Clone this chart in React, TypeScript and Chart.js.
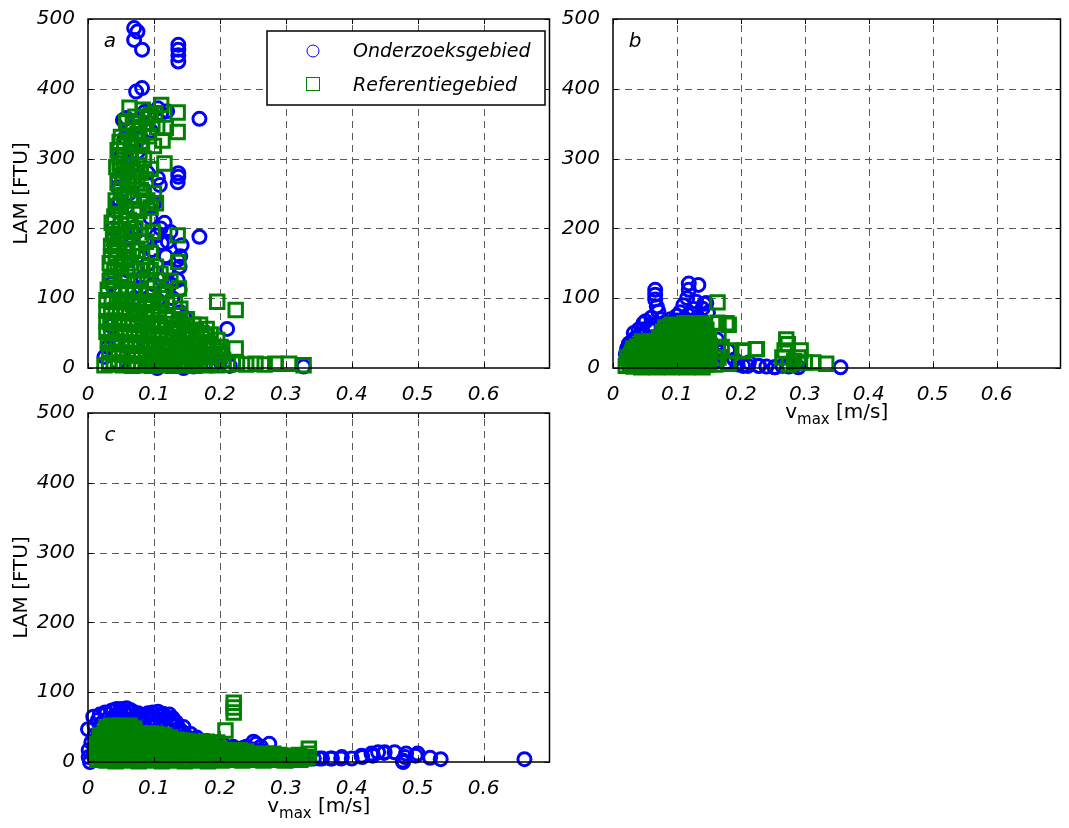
import React, { useEffect, useRef } from 'react';
import { Chart, registerables } from 'chart.js';

Chart.register(...registerables);

type Pt = [number, number];

// Axis ranges and tick positions
const X_MAX = 0.7;
const Y_MAX = 500;
const xTicks = [0, 0.1, 0.2, 0.3, 0.4, 0.5, 0.6];
const yTicks = [0, 100, 200, 300, 400, 500];

const seriesNames = ['Onderzoeksgebied', 'Referentiegebied'];
const yAxisTitle = 'LAM [FTU]';
const xAxisTitle = { main: 'v', sub: 'max', rest: ' [m/s]' };

// Panel a: [v_max (m/s), LAM (FTU)]
const studyA: Pt[] = [
  [0.070,487],[0.075,482],[0.070,470],[0.082,456],
  [0.137,463],[0.137,456],[0.137,448],[0.137,439],
  [0.073,396],[0.082,401],[0.169,357],[0.137,279],[0.137,274],[0.169,188],[0.211,56],[0.327,2],[0.025,16],
  [0.106,372],[0.053,355],[0.086,367],[0.111,365],[0.120,368],[0.058,358],[0.095,340],[0.080,330],[0.066,320],
  [0.051,305],[0.075,309],[0.056,330],[0.060,295],[0.066,287],[0.045,272],[0.106,272],[0.109,262],[0.136,266],
  [0.090,280],[0.045,259],[0.048,240],[0.062,250],[0.085,255],[0.100,235],[0.104,190],[0.121,181],[0.112,179],
  [0.086,181],[0.142,176],[0.071,193],[0.071,202],[0.116,208],[0.097,169],[0.136,155],[0.139,145],[0.090,148],
  [0.083,130],[0.136,126],[0.112,126],[0.139,112],[0.113,107],[0.106,97],[0.146,73],[0.140,160],[0.125,195],
  [0.110,200],[0.095,215],[0.058,230],[0.042,225],[0.065,185],[0.075,160],[0.060,140],[0.080,115],[0.100,120],
  [0.120,140],[0.128,100],[0.140,80],[0.095,90],[0.070,100],[0.055,80],[0.080,70],[0.110,65],[0.130,55],
  [0.150,45],[0.040,40],[0.060,30],[0.090,30],[0.120,25],[0.150,20],[0.180,15],[0.200,10],[0.035,60],
  [0.030,30],[0.045,8],[0.070,5],[0.100,5],[0.130,3],[0.160,2],[0.190,4],[0.215,3],[0.145,0],[0.105,0],
  [0.038,200],[0.040,175],[0.052,190],[0.035,120],[0.092,230],[0.118,160],[0.125,120],[0.150,30],[0.170,25],
];

const refA: Pt[] = [
  [0.063,373],[0.083,370],[0.111,377],[0.136,366],[0.072,360],[0.095,362],[0.058,352],[0.088,350],[0.105,345],
  [0.118,344],[0.136,338],[0.050,331],[0.048,324],[0.075,335],[0.092,332],[0.113,326],[0.082,320],[0.100,318],
  [0.065,310],[0.048,303],[0.048,293],[0.050,283],[0.085,300],[0.116,293],[0.075,290],[0.095,285],[0.070,275],
  [0.088,270],[0.060,262],[0.080,255],[0.100,250],[0.055,248],[0.068,240],[0.090,240],[0.103,236],[0.045,232],
  [0.058,225],[0.078,225],[0.040,217],[0.062,212],[0.085,210],[0.050,205],[0.072,200],[0.098,195],[0.136,190],
  [0.040,185],[0.088,181],[0.060,178],[0.045,170],[0.075,168],[0.035,160],[0.055,155],[0.137,152],[0.103,145],
  [0.045,145],[0.070,140],[0.035,130],[0.060,125],[0.090,125],[0.138,114],[0.196,95],[0.224,83],[0.138,76],
  [0.201,30],[0.224,28],
  [0.033,125],[0.040,140],[0.033,150],[0.042,158],[0.035,175],[0.045,180],[0.038,192],[0.047,198],[0.036,208],
  [0.050,218],[0.042,240],[0.050,255],[0.045,265],[0.052,275],[0.043,288],[0.055,298],[0.045,312],[0.055,318],
  [0.060,340],[0.068,350],[0.078,345],[0.090,358],[0.102,365],[0.065,325],[0.072,318],[0.078,305],[0.063,300],
  [0.068,285],[0.080,280],[0.062,270],[0.075,265],[0.085,245],[0.095,230],[0.070,228],[0.065,195],[0.080,190],
  [0.058,190],[0.068,170],[0.082,160],[0.095,165],[0.058,165],[0.050,150],[0.065,150],[0.080,140],[0.095,140],
  [0.110,135],[0.050,135],[0.075,125],[0.100,115],[0.115,110],[0.125,125],[0.132,95],[0.140,85],[0.150,70],
  [0.160,62],[0.145,60],[0.170,62],[0.178,45],[0.158,42],[0.196,40],[0.198,25],[0.205,12],[0.212,5],
  [0.030,112],[0.040,115],[0.050,110],[0.058,113],[0.068,108],[0.080,110],[0.092,105],[0.110,100],
  [0.028,97],[0.036,95],[0.044,98],[0.052,94],[0.060,97],[0.068,92],[0.077,95],[0.086,90],[0.096,93],[0.108,88],[0.120,92],
  [0.028,82],[0.035,80],[0.042,83],[0.049,79],[0.056,82],[0.063,78],[0.071,81],[0.079,77],[0.088,80],[0.097,76],
  [0.107,78],[0.118,74],[0.128,70],
  [0.028,67],[0.034,65],[0.040,68],[0.047,64],[0.054,67],[0.061,63],[0.068,66],[0.075,62],[0.083,65],[0.091,61],
  [0.099,64],[0.108,60],[0.117,63],[0.126,58],[0.136,62],
  [0.028,52],[0.035,50],[0.042,53],[0.049,49],[0.056,52],[0.063,48],[0.070,51],[0.077,47],[0.085,50],[0.093,46],
  [0.101,49],[0.110,45],[0.119,48],[0.128,44],[0.137,50],[0.146,47],[0.155,52],[0.164,55],[0.172,50],[0.180,56],[0.186,48],
  [0.030,37],[0.037,35],[0.044,38],[0.051,34],[0.058,37],[0.065,33],[0.072,36],[0.079,32],[0.087,35],[0.095,31],
  [0.103,34],[0.111,30],[0.119,33],[0.127,29],[0.135,34],[0.143,31],[0.151,36],[0.159,33],[0.167,37],[0.175,32],
  [0.183,35],[0.190,30],
  [0.032,22],[0.039,20],[0.046,23],[0.053,19],[0.060,22],[0.067,18],[0.074,21],[0.081,17],[0.089,20],[0.097,16],
  [0.105,19],[0.113,15],[0.121,18],[0.129,14],[0.137,19],[0.145,16],[0.153,20],[0.161,17],[0.169,21],[0.177,18],
  [0.185,20],[0.193,16],[0.200,18],
  [0.025,4],[0.032,7],[0.039,5],[0.046,8],[0.053,4],[0.060,7],[0.067,3],[0.074,6],[0.081,4],[0.089,7],[0.097,3],
  [0.105,6],[0.113,4],[0.121,7],[0.129,3],[0.137,6],[0.145,4],[0.153,7],[0.161,3],[0.169,6],[0.177,4],[0.185,7],
  [0.196,4],[0.226,6],[0.240,5],[0.254,6],[0.268,5],[0.284,6],[0.305,6],[0.327,4],
];

// Panel b
const studyB: Pt[] = [
  [0.1185,121],[0.1335,119],[0.1185,112],[0.116,100],[0.066,112],[0.066,105],[0.066,98],[0.0685,88],[0.071,81],
  [0.146,93],[0.1485,79],[0.051,67],[0.056,58],[0.036,43],[0.0335,39],[0.356,1],[0.2535,1],[0.2285,3],[0.211,3],
  [0.2035,3],[0.1325,73],[0.1175,76],[0.140,85],[0.1425,92],[0.0475,64],[0.035,43],[0.0325,50],[0.1625,41],
  [0.1625,25],[0.180,25],[0.1775,8],[0.2125,8],[0.2275,3],[0.2525,1],
  [0.125,65],[0.135,60],[0.145,55],[0.150,45],[0.155,35],[0.170,18],[0.190,12],[0.195,5],[0.240,2],[0.265,3],
  [0.275,2],[0.285,4],[0.290,1],[0.060,72],[0.075,70],[0.090,65],[0.100,68],[0.110,70],[0.080,55],[0.045,55],
  [0.025,35],[0.022,28],[0.020,20],[0.040,30],[0.100,50],[0.130,45],[0.140,30],[0.150,15],[0.165,10],
  [0.040,55],[0.045,48],[0.060,62],[0.028,33],[0.025,25],[0.080,62],[0.090,70],[0.100,75],[0.105,80],[0.125,85],
  [0.130,95],[0.110,90],
];

const refB: Pt[] = [
  [0.1635,94],[0.1635,65],[0.181,62],[0.2235,27],[0.2035,25],[0.271,41],[0.2735,34],[0.2935,25],[0.3135,8],
  [0.3335,6],[0.181,6],[0.2685,25],[0.2835,10],[0.165,64],[0.1775,64],[0.1375,64],[0.0925,62],[0.1125,64],
  [0.225,27],[0.2025,24],[0.180,6],[0.265,15],[0.290,15],[0.300,8],[0.275,5],[0.165,45],[0.170,30],[0.185,25],
  [0.165,15],[0.160,5],
  [0.082,58],[0.090,60],[0.098,57],[0.106,60],[0.114,58],[0.122,61],[0.130,57],[0.138,60],[0.146,55],
  [0.078,52],[0.086,51],[0.094,53],[0.102,50],[0.110,52],[0.118,50],[0.126,52],[0.134,49],[0.142,50],
  [0.072,44],[0.079,47],[0.086,43],[0.093,46],[0.100,42],[0.107,45],[0.114,41],[0.121,44],[0.128,40],[0.135,43],
  [0.142,39],[0.150,42],
  [0.045,38],[0.052,36],[0.060,38],[0.068,37],[0.076,39],[0.084,37],[0.092,39],[0.100,36],[0.108,38],[0.116,35],
  [0.124,37],[0.132,34],[0.140,36],[0.148,33],
  [0.032,28],[0.038,31],[0.044,34],[0.050,30],[0.056,33],[0.062,29],[0.068,32],[0.074,28],[0.080,31],[0.086,27],
  [0.092,30],[0.098,26],[0.104,29],[0.110,25],[0.116,28],[0.122,24],[0.128,27],[0.134,23],[0.140,26],[0.146,22],
  [0.152,25],
  [0.030,22],[0.036,24],[0.042,22],[0.048,24],[0.054,21],[0.060,23],[0.066,21],[0.072,23],[0.078,20],[0.084,22],
  [0.090,20],[0.096,22],[0.102,19],[0.108,21],[0.114,19],[0.120,20],[0.126,18],[0.132,20],[0.138,17],[0.144,19],
  [0.150,17],
  [0.022,15],[0.028,18],[0.034,14],[0.040,17],[0.046,13],[0.052,16],[0.058,12],[0.064,15],[0.070,11],[0.076,14],
  [0.082,10],[0.088,13],[0.094,9],[0.100,12],[0.106,8],[0.112,11],[0.118,7],[0.124,10],[0.130,6],[0.136,9],
  [0.142,5],[0.148,8],
  [0.025,10],[0.031,11],[0.037,9],[0.043,11],[0.049,9],[0.055,10],[0.061,8],[0.067,10],[0.073,8],[0.079,9],
  [0.085,7],[0.091,9],[0.097,7],[0.103,9],[0.109,6],[0.115,8],[0.121,6],[0.127,8],[0.133,5],[0.139,7],[0.145,5],
  [0.151,6],
  [0.020,3],[0.026,6],[0.032,2],[0.038,5],[0.044,1],[0.050,4],[0.056,2],[0.062,5],[0.068,1],[0.074,4],[0.080,2],
  [0.086,5],[0.092,1],[0.098,4],[0.104,2],[0.110,5],[0.116,1],[0.122,4],[0.128,2],[0.134,5],[0.140,1],
];

// Panel c
const studyC: Pt[] = [
  [0.662,4],[0.535,4],[0.519,6],[0.497,9],[0.481,7],[0.478,0],[0.449,13],[0.432,9],[0.416,7],[0.400,5],
  [0.384,5],[0.368,5],[0.351,5],[0.335,7],[0.500,12],[0.4825,12],[0.4775,2],[0.465,14],[0.450,14],[0.440,14],
  [0.430,12],[0.415,9],[0.385,7],[0.370,5],[0.355,5],[0.3425,5],[0.255,26],[0.275,26],[0.000,47],[0.156,40],
  [0.251,29],
  [0.026,71],[0.0435,76],[0.0585,77],[0.076,70],[0.091,70],[0.106,72],[0.1235,68],[0.1335,57],[0.021,50],
  [0.015,60],[0.035,73],[0.050,76],[0.065,74],[0.083,67],[0.098,71],[0.114,69],[0.128,63],[0.010,52],[0.030,62],
  [0.045,67],[0.060,68],[0.070,64],[0.085,60],[0.100,62],[0.115,60],[0.125,55],[0.138,48],[0.145,42],
  [0.008,65],[0.018,68],[0.028,70],[0.038,74],[0.048,74],[0.055,72],[0.068,72],[0.078,66],[0.088,66],[0.095,68],
  [0.108,66],[0.118,64],[0.130,60],[0.135,52],[0.140,44],[0.150,36],[0.158,32],[0.170,28],[0.185,26],[0.200,22],
  [0.215,20],[0.240,22],[0.262,22],[0.145,50],[0.010,38],[0.012,25],[0.008,10],[0.020,55],[0.040,62],[0.080,62],
  [0.110,55],
  [0.001,17],[0.001,7],[0.005,28],[0.003,0],[0.140,30],[0.160,25],[0.165,35],[0.180,30],[0.195,28],[0.205,25],
  [0.220,22],[0.235,20],[0.250,18],[0.265,15],[0.280,12],[0.295,10],[0.310,8],[0.320,6],[0.190,15],[0.210,10],
  [0.230,8],[0.260,5],[0.290,3],[0.310,2],[0.325,3],[0.020,40],[0.060,55],[0.100,50],[0.120,45],
];

const refC: Pt[] = [
  [0.221,85],[0.221,78],[0.221,71],[0.2085,45],[0.335,19],[0.335,12],[0.333,7],[0.290,10],[0.300,8],[0.310,9],
  [0.318,7],
  [0.028,50],[0.035,52],[0.042,49],[0.049,52],[0.056,50],[0.063,52],[0.070,48],
  [0.030,46],[0.038,45],[0.046,46],[0.054,45],[0.062,46],[0.070,44],[0.078,41],[0.086,40],[0.094,41],[0.102,40],
  [0.110,39],
  [0.018,38],[0.025,41],[0.032,39],[0.039,42],[0.046,39],[0.053,42],[0.060,39],[0.067,42],[0.074,40],[0.081,38],
  [0.088,40],[0.095,38],[0.102,40],[0.109,37],[0.116,38],[0.124,35],
  [0.022,34],[0.030,35],[0.038,34],[0.046,35],[0.054,34],[0.062,35],[0.070,34],[0.078,35],[0.086,34],[0.094,35],
  [0.102,34],[0.110,35],[0.118,34],[0.126,33],[0.134,32],[0.142,31],[0.150,30],
  [0.014,26],[0.021,29],[0.028,26],[0.035,29],[0.042,26],[0.049,29],[0.056,26],[0.063,29],[0.070,26],[0.077,29],
  [0.084,26],[0.091,29],[0.098,26],[0.105,29],[0.112,26],[0.119,30],[0.126,27],[0.133,30],[0.140,27],[0.148,29],
  [0.156,27],[0.164,29],[0.172,27],[0.180,29],[0.188,26],[0.196,28],
  [0.016,21],[0.024,22],[0.032,21],[0.040,22],[0.048,21],[0.056,22],[0.064,21],[0.072,22],[0.080,21],[0.088,22],
  [0.096,21],[0.104,22],[0.112,21],[0.120,22],[0.128,21],[0.136,22],[0.144,21],[0.152,22],[0.160,21],[0.168,22],
  [0.176,21],[0.184,22],[0.192,20],[0.200,19],[0.210,17],[0.220,16],[0.230,17],[0.240,15],
  [0.012,13],[0.019,16],[0.026,13],[0.033,16],[0.040,13],[0.047,16],[0.054,13],[0.061,16],[0.068,13],[0.075,16],
  [0.082,13],[0.089,16],[0.096,13],[0.103,16],[0.110,13],[0.117,16],[0.124,13],[0.131,16],[0.138,13],[0.145,16],
  [0.152,13],[0.159,16],[0.166,13],[0.173,16],[0.180,13],[0.187,16],[0.194,13],[0.201,14],[0.209,11],[0.217,13],
  [0.225,10],[0.233,12],[0.241,10],[0.249,12],[0.257,10],[0.265,12],[0.273,10],[0.281,12],
  [0.016,8],[0.024,9],[0.032,8],[0.040,9],[0.048,8],[0.056,9],[0.064,8],[0.072,9],[0.080,8],[0.088,9],[0.096,8],
  [0.104,9],[0.112,8],[0.120,9],[0.128,8],[0.136,9],[0.144,8],[0.152,9],[0.160,8],[0.168,9],[0.176,8],[0.184,9],
  [0.192,8],[0.200,8],[0.208,7],[0.216,8],[0.224,7],[0.232,8],[0.240,7],[0.248,8],[0.256,7],[0.264,8],[0.272,7],
  [0.280,8],[0.288,7],[0.296,8],[0.304,7],[0.312,8],[0.320,10],
  [0.014,3],[0.021,5],[0.028,2],[0.035,4],[0.042,1],[0.049,3],[0.056,5],[0.063,2],[0.070,4],[0.077,1],[0.084,3],
  [0.091,5],[0.098,2],[0.105,4],[0.112,1],[0.119,3],[0.126,5],[0.133,2],[0.140,4],[0.147,1],[0.154,3],[0.161,5],
  [0.168,2],[0.175,4],[0.182,1],[0.189,3],[0.196,5],[0.203,2],[0.210,4],[0.218,3],[0.226,5],[0.234,2],[0.242,4],
  [0.250,3],[0.258,5],[0.266,2],[0.274,4],[0.282,3],[0.290,5],[0.298,2],[0.306,4],[0.314,3],[0.322,3],[0.328,5],
];

const FONT = "'DejaVu Sans', 'Liberation Sans', sans-serif";
const BLUE = '#0000ff';
const GREEN = '#008000';

// margins around the plot area inside each canvas
const PAD_L = 85;
const PAD_T = 15;
const PAD_R = 10;
const PAD_B = 70;

interface PanelCfg {
  left: number;
  top: number;
  width: number;
  height: number;
  letter: string;
  study: Pt[];
  reference: Pt[];
  legend: boolean;
  yTitle: boolean;
  xTitle: boolean;
}

const panels: PanelCfg[] = [
  { left: 88, top: 19, width: 464, height: 349, letter: 'a', study: studyA, reference: refA, legend: true, yTitle: true, xTitle: false },
  { left: 613, top: 19, width: 450, height: 349, letter: 'b', study: studyB, reference: refB, legend: false, yTitle: false, xTitle: true },
  { left: 88, top: 413, width: 464, height: 349, letter: 'c', study: studyC, reference: refC, legend: false, yTitle: true, xTitle: true },
];

const panelDecor = {
  id: 'panelDecor',
  beforeDatasetsDraw(chart: any) {
    const { ctx, chartArea: ca, scales } = chart;
    ctx.save();
    ctx.strokeStyle = '#5a5a5a';
    ctx.lineWidth = 1;
    ctx.setLineDash([7, 5]);
    for (const v of xTicks) {
      if (v <= 0) continue;
      const px = Math.round(scales.x.getPixelForValue(v)) + 0.5;
      ctx.beginPath();
      ctx.moveTo(px, ca.bottom);
      ctx.lineTo(px, ca.top);
      ctx.stroke();
    }
    for (const v of yTicks) {
      if (v <= 0 || v >= Y_MAX) continue;
      const py = Math.round(scales.y.getPixelForValue(v)) + 0.5;
      ctx.beginPath();
      ctx.moveTo(ca.left, py);
      ctx.lineTo(ca.right, py);
      ctx.stroke();
    }
    ctx.restore();
  },
  afterDatasetsDraw(chart: any, _args: any, opts: any) {
    const { ctx, chartArea: ca, scales } = chart;
    ctx.save();
    // axes box
    ctx.strokeStyle = '#000';
    ctx.lineWidth = 1.5;
    ctx.strokeRect(ca.left, ca.top, ca.right - ca.left, ca.bottom - ca.top);
    // inward tick marks on all four sides
    ctx.lineWidth = 1;
    const TL = 5;
    for (const v of xTicks) {
      const px = Math.round(scales.x.getPixelForValue(v)) + 0.5;
      ctx.beginPath();
      ctx.moveTo(px, ca.bottom); ctx.lineTo(px, ca.bottom - TL);
      ctx.moveTo(px, ca.top); ctx.lineTo(px, ca.top + TL);
      ctx.stroke();
    }
    for (const v of yTicks) {
      const py = Math.round(scales.y.getPixelForValue(v)) + 0.5;
      ctx.beginPath();
      ctx.moveTo(ca.left, py); ctx.lineTo(ca.left + TL, py);
      ctx.moveTo(ca.right, py); ctx.lineTo(ca.right - TL, py);
      ctx.stroke();
    }
    // panel letter
    ctx.fillStyle = '#000';
    ctx.font = `italic 20px ${FONT}`;
    ctx.textAlign = 'center';
    ctx.textBaseline = 'middle';
    ctx.fillText(opts.letter, ca.left + 22, ca.top + 23);

    if (opts.legend) {
      const bx = ca.left + 179;
      const by = ca.top + 12;
      const bw = 278;
      const bh = 74;
      ctx.fillStyle = '#fff';
      ctx.fillRect(bx, by, bw, bh);
      ctx.strokeStyle = '#000';
      ctx.lineWidth = 1.5;
      ctx.strokeRect(bx, by, bw, bh);
      const mx = bx + 46;
      ctx.lineWidth = 1;
      ctx.strokeStyle = BLUE;
      ctx.beginPath();
      ctx.arc(mx, by + 20, 6, 0, Math.PI * 2);
      ctx.stroke();
      ctx.strokeStyle = GREEN;
      ctx.strokeRect(mx - 6.5, by + 53 - 6.5, 13, 13);
      ctx.fillStyle = '#000';
      ctx.font = `italic 19px ${FONT}`;
      ctx.textAlign = 'left';
      ctx.textBaseline = 'middle';
      ctx.fillText(seriesNames[0], bx + 86, by + 21);
      ctx.fillText(seriesNames[1], bx + 86, by + 55);
    }

    if (opts.yTitle) {
      ctx.save();
      ctx.translate(ca.left - 66, (ca.top + ca.bottom) / 2);
      ctx.rotate(-Math.PI / 2);
      ctx.fillStyle = '#000';
      ctx.font = `20px ${FONT}`;
      ctx.textAlign = 'center';
      ctx.textBaseline = 'middle';
      ctx.fillText(yAxisTitle, 0, 0);
      ctx.restore();
    }

    if (opts.xTitle) {
      const big = `20px ${FONT}`;
      const small = `15px ${FONT}`;
      ctx.font = big;
      const w1 = ctx.measureText(xAxisTitle.main).width;
      const w3 = ctx.measureText(xAxisTitle.rest).width;
      ctx.font = small;
      const w2 = ctx.measureText(xAxisTitle.sub).width;
      const total = w1 + w2 + w3;
      let x = (ca.left + ca.right) / 2 - total / 2;
      const base = ca.bottom + 50;
      ctx.fillStyle = '#000';
      ctx.textAlign = 'left';
      ctx.textBaseline = 'alphabetic';
      ctx.font = big;
      ctx.fillText(xAxisTitle.main, x, base);
      x += w1;
      ctx.font = small;
      ctx.fillText(xAxisTitle.sub, x, base + 6);
      x += w2;
      ctx.font = big;
      ctx.fillText(xAxisTitle.rest, x, base);
    }
    ctx.restore();
  },
};

function Panel({ cfg }: { cfg: PanelCfg }) {
  const canvasRef = useRef<HTMLCanvasElement | null>(null);

  useEffect(() => {
    const canvas = canvasRef.current;
    if (!canvas) return;
    const tickFont = { family: FONT, size: 20, style: 'italic' as const };
    const chart = new Chart(canvas, {
      type: 'scatter',
      data: {
        datasets: [
          {
            label: seriesNames[0],
            data: cfg.study.map(([x, y]) => ({ x, y })),
            pointStyle: 'circle',
            pointRadius: 6.5,
            borderColor: BLUE,
            backgroundColor: 'rgba(0,0,0,0)',
            borderWidth: 3,
            order: 2,
            clip: false as any,
          },
          {
            label: seriesNames[1],
            data: cfg.reference.map(([x, y]) => ({ x, y })),
            pointStyle: 'rect',
            pointRadius: 9.5,
            borderColor: GREEN,
            backgroundColor: 'rgba(0,0,0,0)',
            borderWidth: 3,
            order: 1,
            clip: false as any,
          },
        ],
      },
      options: {
        responsive: false,
        animation: false,
        events: [],
        layout: { padding: { left: 0, top: PAD_T, right: PAD_R, bottom: 0 } },
        plugins: {
          legend: { display: false },
          tooltip: { enabled: false },
          panelDecor: { letter: cfg.letter, legend: cfg.legend, yTitle: cfg.yTitle, xTitle: cfg.xTitle },
        } as any,
        scales: {
          x: {
            type: 'linear',
            min: 0,
            max: X_MAX,
            grid: { display: false },
            border: { display: false },
            afterBuildTicks: (s: any) => { s.ticks = xTicks.map((value) => ({ value })); },
            afterFit: (s: any) => { s.height = PAD_B; s.paddingLeft = 0; s.paddingRight = 0; },
            ticks: {
              font: tickFont,
              color: '#000',
              padding: 7,
              maxRotation: 0,
              autoSkip: false,
              callback: (v: any) => (Number(v) === 0 ? '0' : Number(v).toFixed(1)),
            },
          },
          y: {
            type: 'linear',
            min: 0,
            max: Y_MAX,
            grid: { display: false },
            border: { display: false },
            afterBuildTicks: (s: any) => { s.ticks = yTicks.map((value) => ({ value })); },
            afterFit: (s: any) => { s.width = PAD_L; s.paddingTop = 0; s.paddingBottom = 0; },
            ticks: {
              font: tickFont,
              color: '#000',
              padding: 5,
              autoSkip: false,
              callback: (v: any) => String(Number(v)),
            },
          },
        },
      },
      plugins: [panelDecor],
    });
    return () => chart.destroy();
  }, [cfg]);

  return (
    <canvas
      ref={canvasRef}
      width={cfg.width + PAD_L + PAD_R}
      height={cfg.height + PAD_T + PAD_B}
      style={{ position: 'absolute', left: cfg.left - PAD_L, top: cfg.top - PAD_T }}
    />
  );
}

export default function App() {
  return (
    <div style={{ position: 'absolute', left: 0, top: 0, width: 1069, height: 828, background: '#fff' }}>
      {panels.map((p) => (
        <Panel key={p.letter} cfg={p} />
      ))}
    </div>
  );
}
